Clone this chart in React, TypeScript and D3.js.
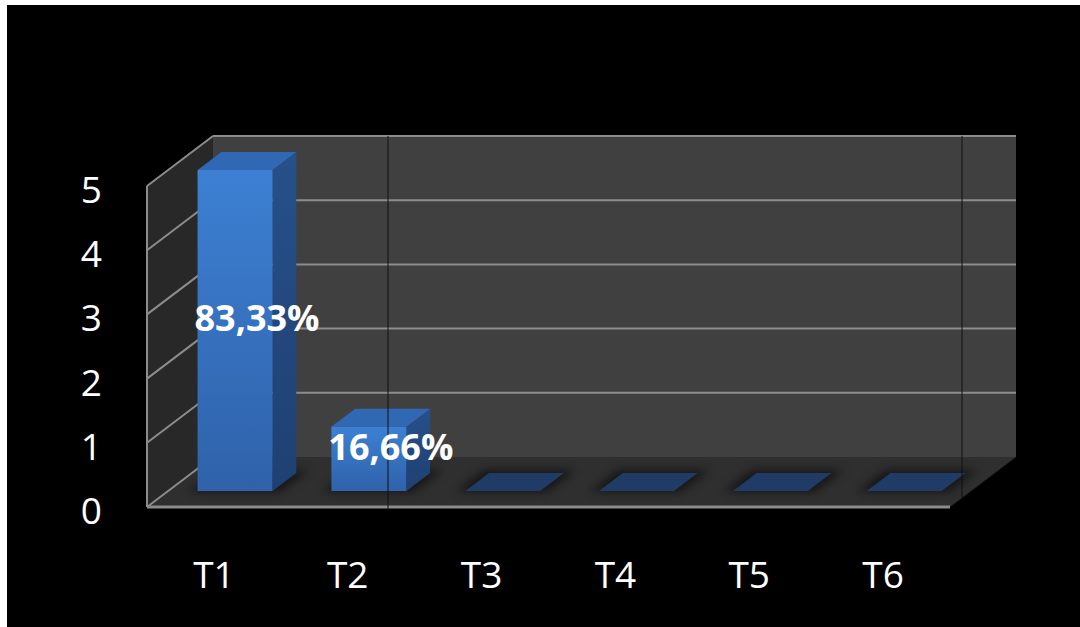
import React from "react";
import * as d3 from "d3";

const categories = ["T1", "T2", "T3", "T4", "T5", "T6"];
const values = [5, 1, 0, 0, 0, 0];
const dataLabels = ["83,33%", "16,66%", "", "", "", ""];
const yTicks = [0, 1, 2, 3, 4, 5];

const W = 1080;
const H = 627;
// 3D projection parameters
const DX = 66;
const DY = -50;
const Z_FRONT = 0.32;
const Z_BACK = 0.68;

export default function App() {
  const x = d3.scaleBand<string>().domain(categories).range([147, 950]).padding(0);
  const y = d3.scaleLinear().domain([0, 5]).range([507, 186]);
  const step = x.step();
  const barW = step * 0.56;

  const P = (px: number, v: number, z: number): [number, number] => [px + z * DX, y(v) + z * DY];
  const poly = (pts: [number, number][]) => pts.map((p) => p.join(",")).join(" ");

  const x0 = x.range()[0];
  const x1 = x.range()[1];
  const vMax = y.domain()[1];

  const backWall = poly([P(x0, 0, 1), P(x1, 0, 1), P(x1, vMax, 1), P(x0, vMax, 1)]);
  const leftWall = poly([P(x0, 0, 0), P(x0, 0, 1), P(x0, vMax, 1), P(x0, vMax, 0)]);
  const floor = poly([P(x0, 0, 0), P(x1, 0, 0), P(x1, 0, 1), P(x0, 0, 1)]);

  // decorative vertical guides present in the source slide
  const guides = [
    { gx: 388, y1: y(vMax) + DY, y2: 510 },
    { gx: 962, y1: y(vMax) + DY, y2: 498 },
  ];

  return (
    <svg width={W} height={H} style={{ position: "absolute", left: 0, top: 0 }}>
      <defs>
        <linearGradient id="front" x1="0" y1="0" x2="0" y2="1">
          <stop offset="0" stopColor="#3d80d3" />
          <stop offset="1" stopColor="#2f62aa" />
        </linearGradient>
        <linearGradient id="side" x1="0" y1="0" x2="0" y2="1">
          <stop offset="0" stopColor="#27508a" />
          <stop offset="1" stopColor="#1f4072" />
        </linearGradient>
        <filter id="blur" x="-30%" y="-100%" width="160%" height="300%">
          <feGaussianBlur stdDeviation="5" />
        </filter>
      </defs>
      <rect x={0} y={0} width={W} height={H} fill="#ffffff" />
      <rect x={7} y={5} width={W - 7} height={H - 5} fill="#000000" />

      {/* walls */}
      <polygon points={backWall} fill="#404040" />
      <polygon points={leftWall} fill="#282828" />
      <polygon points={floor} fill="#2f2f2f" />

      {/* gridlines */}
      {yTicks.map((t) => {
        const a = P(x0, t, 0);
        const b = P(x0, t, 1);
        const c = P(x1, t, 1);
        return (
          <g key={"g" + t}>
            <line x1={a[0]} y1={a[1]} x2={b[0]} y2={b[1]} stroke="#8c8c8c" strokeWidth={2} />
            {t > 0 && (
              <line x1={b[0]} y1={b[1]} x2={c[0]} y2={c[1]} stroke="#8c8c8c" strokeWidth={2} />
            )}
          </g>
        );
      })}
      {/* left wall front edge */}
      <line x1={x0} y1={y(0)} x2={x0} y2={y(vMax)} stroke="#8c8c8c" strokeWidth={2} />
      {/* floor front edge */}
      <line x1={x0} y1={y(0)} x2={x1} y2={y(0)} stroke="#8c8c8c" strokeWidth={3} />
      {/* floor right edge */}
      <line
        x1={P(x1, 0, 0)[0]}
        y1={P(x1, 0, 0)[1]}
        x2={P(x1, 0, 1)[0]}
        y2={P(x1, 0, 1)[1]}
        stroke="#1a1a1a"
        strokeWidth={1}
      />

      {/* shadows */}
      {categories.map((c, i) => {
        const cx = (x(c) as number) + step / 2;
        const l = cx - barW / 2 - 8;
        const r = cx + barW / 2 + 8;
        const pts = poly([P(l, 0, Z_FRONT - 0.02), P(r, 0, Z_FRONT - 0.02), P(r, 0, Z_BACK + 0.06), P(l, 0, Z_BACK + 0.06)]);
        return <polygon key={"s" + i} points={pts} fill="#000" opacity={0.55} filter="url(#blur)" />;
      })}

      {/* bars */}
      {categories.map((c, i) => {
        const v = values[i];
        const cx = (x(c) as number) + step / 2;
        const l = cx - barW / 2;
        const r = cx + barW / 2;
        if (v === 0) {
          const pts = poly([P(l, 0, Z_FRONT), P(r, 0, Z_FRONT), P(r, 0, Z_BACK), P(l, 0, Z_BACK)]);
          return <polygon key={"b" + i} points={pts} fill="#1f3b66" />;
        }
        const front = poly([P(l, 0, Z_FRONT), P(r, 0, Z_FRONT), P(r, v, Z_FRONT), P(l, v, Z_FRONT)]);
        const side = poly([P(r, 0, Z_FRONT), P(r, 0, Z_BACK), P(r, v, Z_BACK), P(r, v, Z_FRONT)]);
        const top = poly([P(l, v, Z_FRONT), P(r, v, Z_FRONT), P(r, v, Z_BACK), P(l, v, Z_BACK)]);
        return (
          <g key={"b" + i}>
            <polygon points={side} fill="url(#side)" />
            <polygon points={top} fill="#3068b3" />
            <polygon points={front} fill="url(#front)" />
          </g>
        );
      })}

      {/* guides */}
      {guides.map((g, i) => (
        <line key={"gd" + i} x1={g.gx} y1={g.y1} x2={g.gx} y2={g.y2} stroke="#111" strokeWidth={1} />
      ))}

      {/* data labels */}
      {categories.map((c, i) => {
        if (!dataLabels[i]) return null;
        const cx = (x(c) as number) + step / 2;
        const mid = P(cx, values[i] / 2, Z_FRONT);
        return (
          <text
            key={"dl" + i}
            x={mid[0] + 22}
            y={mid[1] - 12}
            dy="0.36em"
            textAnchor="middle"
            fill="#ffffff"
            fontFamily="'Open Sans', sans-serif"
            fontWeight="bold"
            fontSize={36}
          >
            {dataLabels[i]}
          </text>
        );
      })}

      {/* y axis labels */}
      {yTicks.map((t) => (
        <text
          key={"y" + t}
          x={102}
          y={y(t) + 17}
          textAnchor="end"
          fill="#ffffff"
          fontFamily="'Open Sans', sans-serif"
          fontSize={37}
        >
          {t}
        </text>
      ))}

      {/* category labels */}
      {categories.map((c) => (
        <text
          key={"c" + c}
          x={(x(c) as number) + step / 2}
          y={588}
          textAnchor="middle"
          fill="#ffffff"
          fontFamily="'Open Sans', sans-serif"
          fontSize={37}
        >
          {c}
        </text>
      ))}
    </svg>
  );
}
